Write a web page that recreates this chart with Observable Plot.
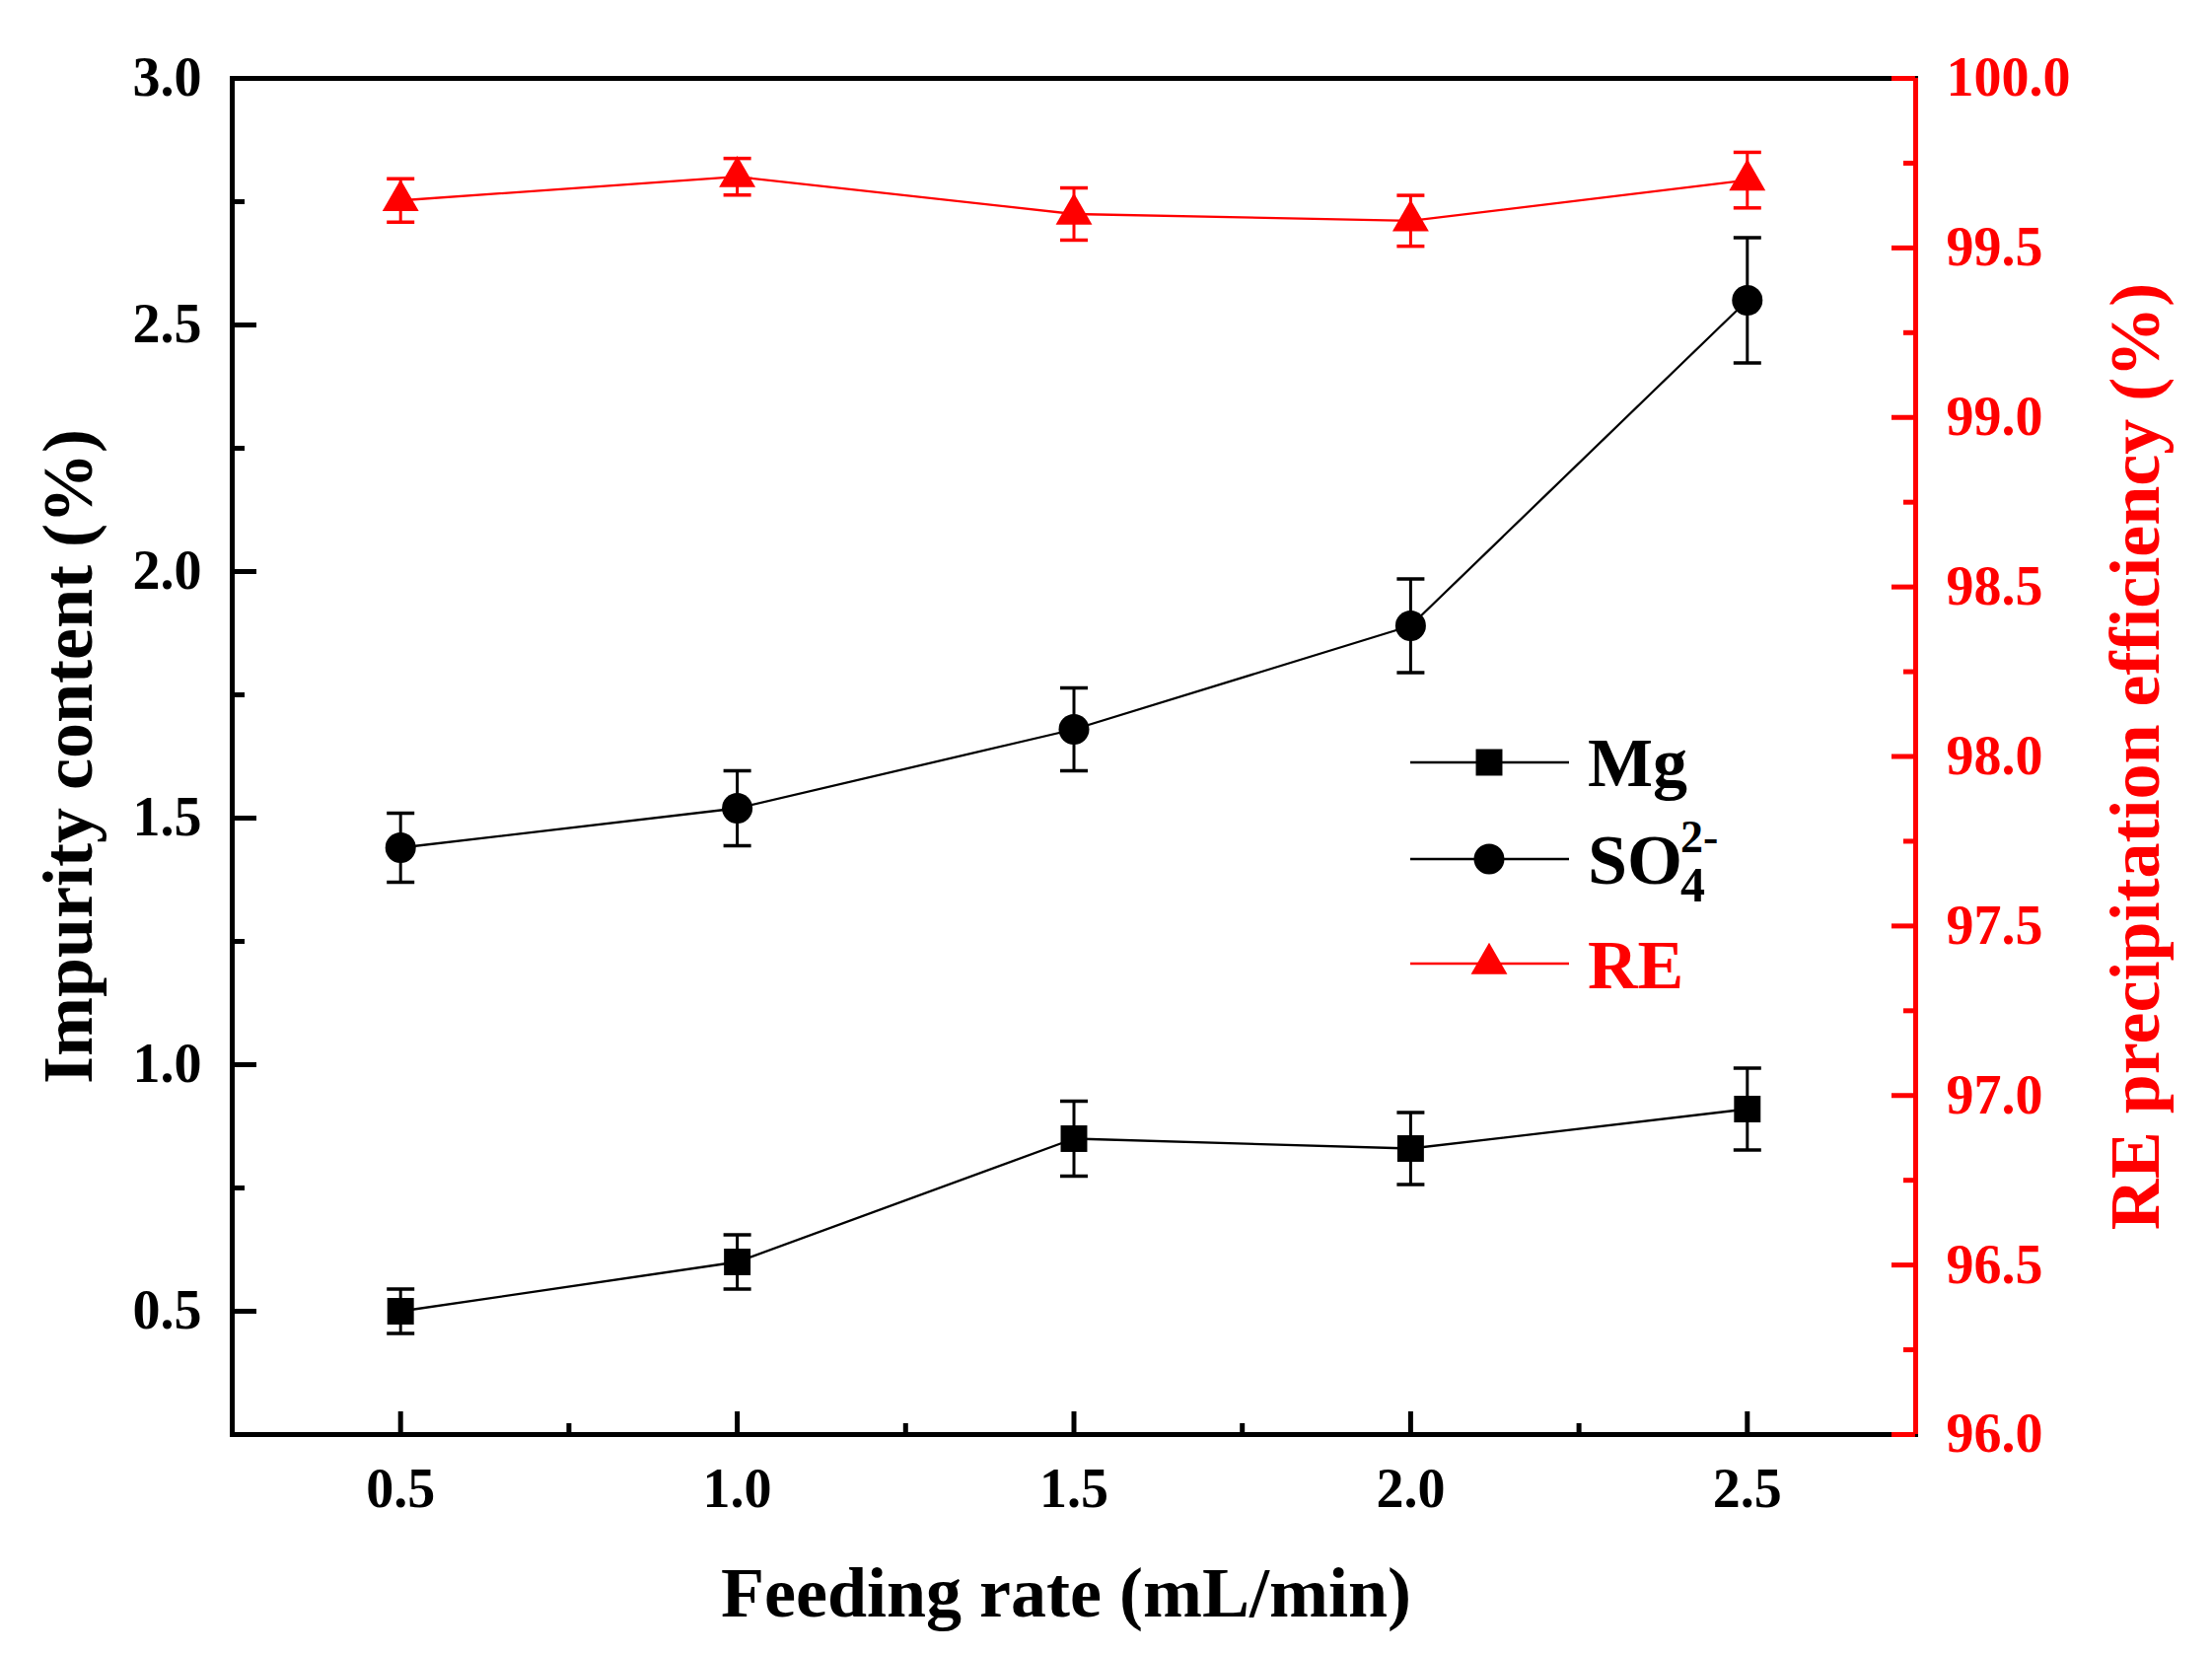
<!DOCTYPE html>
<html><head><meta charset="utf-8">
<script src="https://cdn.jsdelivr.net/npm/d3@7"></script>
<script src="https://cdn.jsdelivr.net/npm/@observablehq/plot@0.6"></script>
<style>
body{margin:0;background:#fff;}
#wrap{position:relative;width:2243px;height:1676px;overflow:hidden;}
#wrap svg{position:absolute;left:0;top:0;}
</style></head><body><div id="wrap"></div>
<script>
// ---- data ----
const feedRate = [0.5, 1.0, 1.5, 2.0, 2.5];
const mg       = [0.50, 0.60, 0.85, 0.83, 0.91];
const mgErr    = [0.045, 0.055, 0.076, 0.073, 0.083];
const so4      = [1.44, 1.52, 1.68, 1.89, 2.55];
const so4Err   = [0.070, 0.076, 0.084, 0.095, 0.127];
const reEff    = [99.64, 99.71, 99.60, 99.58, 99.70];
const reErr    = [0.064, 0.054, 0.077, 0.075, 0.082];
const xTicks   = [0.5, 1.0, 1.5, 2.0, 2.5];
const xMinor   = [0.75, 1.25, 1.75, 2.25];
const yLTicks  = [0.5, 1.0, 1.5, 2.0, 2.5, 3.0];
const yLMinor  = [0.75, 1.25, 1.75, 2.25, 2.75];
const yRTicks  = [96.0, 96.5, 97.0, 97.5, 98.0, 98.5, 99.0, 99.5, 100.0];
const yRMinor  = [96.25, 96.75, 97.25, 97.75, 98.25, 98.75, 99.25, 99.75];
const xTitle = "Feeding rate (mL/min)";
const yLTitle = "Impurity content (%)";
const yRTitle = "RE precipitation efficiency (%)";

// ---- layout ----
const W = 2243, H = 1676;
const M = {marginTop: 79, marginRight: 301, marginBottom: 222, marginLeft: 235};
const font = "'Liberation Serif','Times New Roman',serif";
const RED = "#ff0000";

const rows = feedRate.map((x, i) => ({x, mg: mg[i], mgE: mgErr[i], so4: so4[i], so4E: so4Err[i], re: reEff[i], reE: reErr[i]}));

const capSymbol = {draw(ctx, size) { const r = Math.sqrt(size / Math.PI); ctx.moveTo(-r, 0); ctx.lineTo(r, 0); }};

function series(yKey, eKey, color, symbol, r) {
  return [
    Plot.line(rows, {x: "x", y: yKey, stroke: color, strokeWidth: 2.3}),
    Plot.ruleX(rows, {x: "x", y1: d => d[yKey] - d[eKey], y2: d => d[yKey] + d[eKey], stroke: color, strokeWidth: 3}),
    Plot.dot(rows, {x: "x", y: d => d[yKey] + d[eKey], symbol: capSymbol, r: 14, stroke: color, strokeWidth: 3.5, fill: "none"}),
    Plot.dot(rows, {x: "x", y: d => d[yKey] - d[eKey], symbol: capSymbol, r: 14, stroke: color, strokeWidth: 3.5, fill: "none"}),
    Plot.dot(rows, {x: "x", y: yKey, symbol, r, fill: color, stroke: "none"})
  ];
}

const baseStyle = {fontFamily: font, fontSize: "56px", fontWeight: "bold", background: "transparent", overflow: "visible"};

const leftPlot = Plot.plot({
  width: W, height: H, ...M,
  x: {domain: [0.25, 2.75], axis: null},
  y: {domain: [0.25, 3.0], axis: null},
  style: {...baseStyle, color: "black"},
  marks: [
    Plot.frame({stroke: "black", strokeWidth: 5}),
    ...series("mg", "mgE", "black", "square", 15.2),
    ...series("so4", "so4E", "black", "circle", 15.5),
    Plot.axisX(xTicks, {anchor: "top", frameAnchor: "bottom", tickSize: 24, strokeWidth: 5, tickFormat: () => "", label: null}),
    Plot.axisX(xMinor, {anchor: "top", frameAnchor: "bottom", tickSize: 12, strokeWidth: 5, tickFormat: () => "", label: null}),
    Plot.axisX(xTicks, {anchor: "bottom", tickSize: 0, tickPadding: 34, tickFormat: d => d.toFixed(1), label: null, fontSize: 56}),
    Plot.axisY(yLTicks, {anchor: "right", frameAnchor: "left", tickSize: 24, strokeWidth: 5, tickFormat: () => "", label: null}),
    Plot.axisY(yLMinor, {anchor: "right", frameAnchor: "left", tickSize: 12, strokeWidth: 5, tickFormat: () => "", label: null}),
    Plot.axisY(yLTicks, {anchor: "left", tickSize: 0, tickPadding: 31, tickFormat: d => d.toFixed(1), label: null, fontSize: 56}),
    Plot.text([yLTitle], {frameAnchor: "left", dx: -166, rotate: -90, textAnchor: "middle", lineAnchor: "middle", fontSize: 72, fontWeight: "bold", fill: "black"}),
    Plot.text([xTitle], {frameAnchor: "bottom", dx: -8, dy: 161, textAnchor: "middle", lineAnchor: "middle", fontSize: 72, fontWeight: "bold", fill: "black"})
  ]
});

const rightPlot = Plot.plot({
  width: W, height: H, ...M,
  x: {domain: [0.25, 2.75], axis: null},
  y: {domain: [96, 100], axis: null},
  style: {...baseStyle, color: RED},
  marks: [
    Plot.ruleX([2.75], {stroke: RED, strokeWidth: 5}),
    ...series("re", "reE", RED, "triangle", 13.7),
    Plot.axisY(yRTicks, {anchor: "left", frameAnchor: "right", tickSize: 24, stroke: RED, strokeWidth: 5, tickFormat: () => "", label: null}),
    Plot.axisY(yRMinor, {anchor: "left", frameAnchor: "right", tickSize: 12, stroke: RED, strokeWidth: 5, tickFormat: () => "", label: null}),
    Plot.axisY(yRTicks, {anchor: "right", tickSize: 0, tickPadding: 31, fill: RED, tickFormat: d => d.toFixed(1), label: null, fontSize: 56}),
    Plot.text([yRTitle], {frameAnchor: "right", dx: 223, rotate: -90, textAnchor: "middle", lineAnchor: "middle", fontSize: 72, fontWeight: "bold", fill: RED})
  ]
});

const wrap = document.getElementById("wrap");
wrap.appendChild(leftPlot);
wrap.appendChild(rightPlot);

// ---- legend ----
const legendItems = [
  {key: "Mg", color: "black", symbol: d3.symbolSquare, size: Math.PI * 15.2 * 15.2, cy: 773},
  {key: "SO4", color: "black", symbol: d3.symbolCircle, size: Math.PI * 15.5 * 15.5, cy: 871},
  {key: "RE", color: RED, symbol: d3.symbolTriangle, size: Math.PI * 13.7 * 13.7, cy: 977}
];
const leg = d3.select(wrap).append("svg").attr("width", W).attr("height", H)
  .style("font-family", font).style("font-weight", "bold").style("pointer-events", "none");
const lx0 = 1430, lx1 = 1591, lxm = 1510, tx = 1610;
for (const it of legendItems) {
  leg.append("line").attr("x1", lx0).attr("x2", lx1).attr("y1", it.cy).attr("y2", it.cy)
    .attr("stroke", it.color).attr("stroke-width", 2.3);
  leg.append("path").attr("d", d3.symbol(it.symbol, it.size)()).attr("transform", `translate(${lxm},${it.cy})`)
    .attr("fill", it.color);
}
leg.append("text").attr("x", tx).attr("y", 797).attr("font-size", 70).attr("fill", "black").text("Mg");
const so = leg.append("text").attr("x", tx).attr("y", 896).attr("font-size", 72).attr("fill", "black");
so.append("tspan").text("SO");
so.append("tspan").attr("x", 1704).attr("y", 864).attr("font-size", 46).text("2-");
so.append("tspan").attr("x", 1704).attr("y", 914).attr("font-size", 50).text("4");
leg.append("text").attr("x", tx).attr("y", 1002).attr("font-size", 70).attr("fill", RED).text("RE");
</script></body></html>
